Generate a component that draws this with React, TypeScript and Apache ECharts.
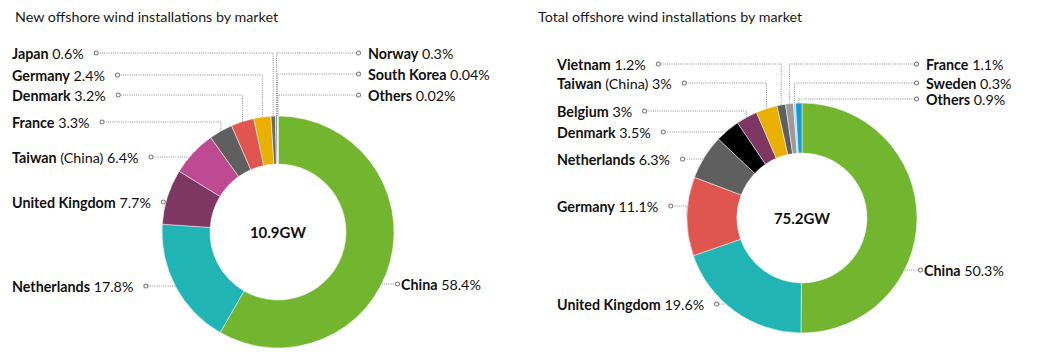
import React, { useEffect, useRef } from 'react';
import * as echarts from 'echarts';

// ---------- data ----------
const newNames = ['China', 'Netherlands', 'United Kingdom', 'Taiwan (China)', 'France', 'Denmark', 'Germany', 'Japan', 'Norway', 'South Korea', 'Others'];
const newValues = [58.4, 17.8, 7.7, 6.4, 3.3, 3.2, 2.4, 0.6, 0.3, 0.04, 0.02];
const newColors = ['#72b62f', '#21b4b5', '#7d3762', '#bd4a92', '#5f5f5f', '#e0554f', '#e9b000', '#6a6a6a', '#9a9a9a', '#c4c4c4', '#0a9de0'];
const newTotal = '10.9GW';

const totalNames = ['China', 'United Kingdom', 'Germany', 'Netherlands', 'Denmark', 'Belgium', 'Taiwan (China)', 'Vietnam', 'France', 'Sweden', 'Others'];
const totalValues = [50.3, 19.6, 11.1, 6.3, 3.5, 3, 3, 1.2, 1.1, 0.3, 0.9];
const totalColors = ['#72b62f', '#21b4b5', '#e0554f', '#5f5f5f', '#000000', '#7d3762', '#e9b000', '#5f5f5f', '#9a9a9a', '#c8c8c8', '#0a9de0'];
const totalTotal = '75.2GW';

const titles = ['New offshore wind installations by market', 'Total offshore wind installations by market'];

// ---------- label layout (positions only) ----------
const newLabelSide = ['R', 'L', 'L', 'L', 'L', 'L', 'L', 'L', 'R', 'R', 'R'];
const newLabelY = [284, 286, 202, 157, 122, 95, 75, 53, 53, 74, 95];
const newLabelX = [396, 12, 12, 12, 12, 12, 12, 12, 357, 357, 357];
const newLabelGap = [2, 11, 11, 11, 11, 11, 11, 11, 8, 8, 8];

const totalLabelSide = ['R', 'L', 'L', 'L', 'L', 'L', 'L', 'L', 'R', 'R', 'R'];
const totalLabelY = [270, 304, 206, 159, 132, 111, 83, 64, 64, 83, 99];
const totalLabelX = [919, 557, 557, 557, 557, 557, 557, 557, 915, 915, 915];
const totalLabelGap = [2, 10, 10, 10, 10, 10, 10, 10, 8, 8, 8];

const FONT = 'Lato, "Noto Sans", sans-serif';
const LINE_COLOR = '#8a8a8a';
const LABEL_SIZE = 14.3;

function labelText(name: string, value: number, side: string, gap: number) {
  const idx = name.indexOf(' (');
  const bold = idx >= 0 ? name.slice(0, idx) : name;
  const rest = idx >= 0 ? name.slice(idx) : '';
  const g = gap <= 3 ? 'g2' : gap >= 10 ? 'g10' : 'g8';
  const txt = `{n|${bold}}{v|${rest} ${value}%}`;
  return side === 'L' ? `${txt}{${g}| }{c| }` : `{c| }{${g}| }${txt}`;
}

const rich = {
  n: { fontFamily: FONT, fontSize: LABEL_SIZE, fontWeight: 'bold', color: '#111', lineHeight: 16 },
  v: { fontFamily: FONT, fontSize: LABEL_SIZE, fontWeight: 'normal', color: '#111', lineHeight: 16 },
  g2: { width: 2, lineHeight: 16 },
  g8: { width: 8, lineHeight: 16 },
  g10: { width: 11, lineHeight: 16 },
  c: { width: 3, height: 3, borderWidth: 1, borderColor: '#7a7a7a', borderRadius: 3, backgroundColor: '#fff', lineHeight: 16 },
};

function makeSeries(
  names: string[], values: number[], colors: string[],
  sides: string[], ys: number[], xs: number[], gaps: number[],
  center: [number, number], radius: [number, number]
) {
  const [cx, cy] = center;
  const r = radius[1];
  return {
    type: 'pie',
    center,
    radius,
    startAngle: 90,
    clockwise: true,
    avoidLabelOverlap: false,
    minShowLabelAngle: 0,
    emphasis: { disabled: true },
    itemStyle: { borderColor: '#ffffff', borderWidth: 0.5 },
    data: names.map((n, i) => ({
      name: n,
      value: values[i],
      itemStyle: { color: colors[i] },
      label: { formatter: labelText(n, values[i], sides[i], gaps[i]) },
    })),
    label: { show: true, position: 'outside', rich },
    labelLine: { show: true, length: 6, length2: 6, smooth: false, lineStyle: { color: LINE_COLOR, width: 1, type: [1, 1.2] } },
    labelLayout: (p: any) => {
      const i = p.dataIndex;
      const y = ys[i];
      const x = xs[i];
      const w = p.labelRect ? p.labelRect.width : 0;
      const endX = sides[i] === 'L' ? x + w - 0.5 : x + 0.5;
      const pts = p.labelLinePoints;
      const anchor = pts && pts[0] ? pts[0] : [cx, cy - r];
      let points;
      if (y < anchor[1] - 1) {
        points = [[anchor[0], anchor[1]], [anchor[0], y], [endX, y]];
      } else {
        const dy = y - cy;
        const dx = Math.sqrt(Math.max(r * r - dy * dy, 0));
        const ex = sides[i] === 'L' ? cx - dx : cx + dx;
        points = [[ex, y], [(ex + endX) / 2, y], [endX, y]];
      }
      return { x, y, align: 'left', verticalAlign: 'middle', labelLinePoints: points };
    },
  };
}

export default function App() {
  const ref = useRef<HTMLDivElement>(null);
  useEffect(() => {
    if (!ref.current) return;
    const chart = echarts.init(ref.current, undefined, { renderer: 'svg' });
    const c1: [number, number] = [278, 232];
    const c2: [number, number] = [802, 218];
    chart.setOption({
      animation: false,
      backgroundColor: '#ffffff',
      title: [
        { text: titles[0], left: 10, top: 4, textStyle: { fontFamily: FONT, fontSize: 14.3, fontWeight: 'normal', color: '#1a1a1a' } },
        { text: titles[1], left: 533, top: 4, textStyle: { fontFamily: FONT, fontSize: 14.3, fontWeight: 'normal', color: '#1a1a1a' } },
      ],
      graphic: [
        { type: 'text', x: c1[0], y: c1[1], style: { text: newTotal, fontFamily: FONT, fontSize: 15, fontWeight: 'bold', fill: '#111', align: 'center', verticalAlign: 'middle' } },
        { type: 'text', x: c2[0], y: c2[1], style: { text: totalTotal, fontFamily: FONT, fontSize: 15, fontWeight: 'bold', fill: '#111', align: 'center', verticalAlign: 'middle' } },
      ],
      series: [
        makeSeries(newNames, newValues, newColors, newLabelSide, newLabelY, newLabelX, newLabelGap, c1, [68, 116]),
        makeSeries(totalNames, totalValues, totalColors, totalLabelSide, totalLabelY, totalLabelX, totalLabelGap, c2, [65, 115]),
      ],
    });
    return () => chart.dispose();
  }, []);
  return <div ref={ref} style={{ position: 'fixed', left: 0, top: 0, width: 1061, height: 359 }} />;
}
